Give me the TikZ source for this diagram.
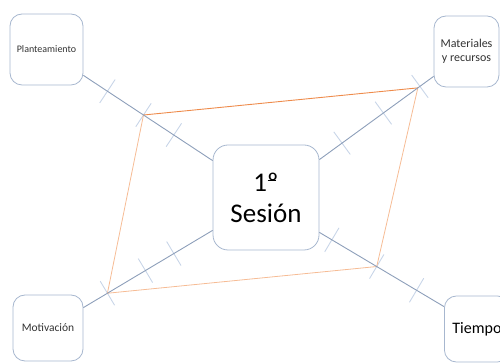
\documentclass[tikz,border=0pt]{standalone}
\usepackage{fontspec}
\setmainfont{Carlito}
\usetikzlibrary{calc}
\definecolor{boxc}{HTML}{A7B7CF}
\definecolor{linec}{HTML}{8D9FBA}
\definecolor{tickc}{HTML}{C8D5E8}
\definecolor{orA}{HTML}{EE8B4B}
\definecolor{orB}{HTML}{F6BC95}
\newcommand{\ordbar}{\makebox[0pt][l]{\hspace{0.02em}\rule[0.36em]{0.3em}{0.045em}}º}
\begin{document}
\begin{tikzpicture}[x=1pt,y=1pt,
  box/.style={draw=boxc, line width=0.8pt, rounded corners=12pt, fill=white, inner sep=0pt, align=center, text=black!80},
  conn/.style={draw=linec, line width=0.9pt},
  tickmark/.style={draw=tickc, line width=0.9pt},
  orangeA/.style={draw=orA, line width=0.9pt},
  orangeB/.style={draw=orB, line width=0.8pt}]
\useasboundingbox (0,0) rectangle (500,363);
\clip (0,0) rectangle (500,363);
% boxes
\node[box, minimum width=73pt, minimum height=71pt, font=\fontsize{10}{12}\selectfont] (pl) at (46.5,313.5) {Planteamiento};
\node[box, minimum width=106pt, minimum height=105pt, rounded corners=15pt, font=\fontsize{27}{31}\selectfont, text=black] (c) at (266,165.5) {1\ordbar\\Sesión};
\node[box, minimum width=65pt, minimum height=71pt, font=\fontsize{12}{14}\selectfont] (ma) at (466.5,311.5) {Materiales\\y recursos};
\node[box, minimum width=70pt, minimum height=66pt, font=\fontsize{11.5}{13}\selectfont] (mo) at (48,35) {Motivación};
\node[box, anchor=west, inner xsep=8pt, minimum height=66pt, font=\fontsize{16}{19}\selectfont, text=black] (ti) at (444,34) {Tiempo};
% connector end points
\coordinate (a1) at ($(pl.south east)+(0,10)$);
\coordinate (b1) at ($(c.north west)+(0,-16)$);
\coordinate (a2) at ($(c.north east)+(0,-15)$);
\coordinate (b2) at ($(ma.south west)+(0,11)$);
\coordinate (a3) at ($(mo.north east)+(0,-13)$);
\coordinate (b3) at ($(c.south west)+(0,20)$);
\coordinate (a4) at ($(c.south east)+(0,18)$);
\coordinate (b4) at ($(ti.north west)+(0,-11)$);
% ticks
\foreach \t in {0.186,0.465,0.70} {\coordinate (p) at ($(a1)!\t!(b1)$); \draw[tickmark] ($(p)!14pt!90:(b1)$) -- ($(p)!14pt!-90:(b1)$);}
\foreach \t in {0.198,0.56,0.88} {\coordinate (p) at ($(a2)!\t!(b2)$); \draw[tickmark] ($(p)!14pt!90:(b2)$) -- ($(p)!14pt!-90:(b2)$);}
\foreach \t in {0.186,0.48,0.70} {\coordinate (p) at ($(a3)!\t!(b3)$); \draw[tickmark] ($(p)!14pt!90:(b3)$) -- ($(p)!14pt!-90:(b3)$);}
\foreach \t in {0.10,0.46,0.78} {\coordinate (p) at ($(a4)!\t!(b4)$); \draw[tickmark] ($(p)!14pt!90:(b4)$) -- ($(p)!14pt!-90:(b4)$);}
% orange quadrilateral
\coordinate (q1) at ($(a1)!0.465!(b1)$);
\coordinate (q2) at ($(a2)!0.862!(b2)$);
\coordinate (q3) at ($(a4)!0.46!(b4)$);
\coordinate (q4) at ($(a3)!0.186!(b3)$);
\draw[orangeA] (q1) -- (q2);
\draw[orangeB] (q2) -- (q3) -- (q4) -- (q1);
% connectors
\draw[conn] (a1) -- (b1);
\draw[conn] (a2) -- (b2);
\draw[conn] (a3) -- (b3);
\draw[conn] (a4) -- (b4);
\end{tikzpicture}
\end{document}
